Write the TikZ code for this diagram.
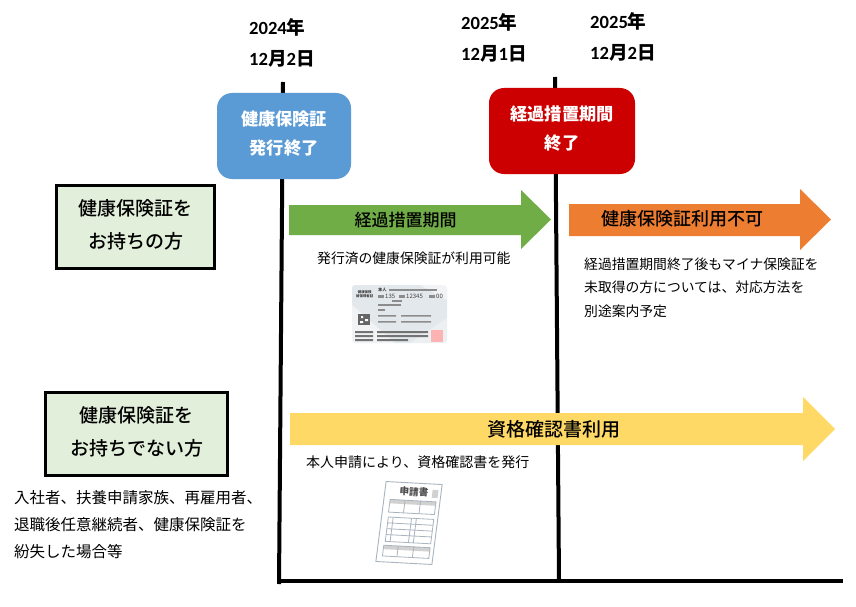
\documentclass[tikz,border=0pt]{standalone}
\usepackage{fontspec}
\setmainfont{Noto Sans CJK JP}
\newfontfamily\med{Noto Sans CJK JP Medium}
\newfontfamily\latinb{Carlito}[BoldFont=Carlito Bold]
\newcommand{\yr}[1]{{\latinb\bfseries #1}}
\newcommand{\frect}[4]{(#1,#2) -- (#3,#2) -- (#3,#4) -- (#1,#4) -- cycle}
\definecolor{gr}{HTML}{70AD47}
\definecolor{og}{HTML}{ED7D31}
\definecolor{yl}{HTML}{FFD966}
\definecolor{bl}{HTML}{5B9BD5}
\definecolor{rd}{HTML}{CC0000}
\definecolor{pale}{HTML}{E2EFDA}
\definecolor{cardc}{HTML}{E3E8EC}
\definecolor{formc}{HTML}{A9B4BE}
\begin{document}
\begin{tikzpicture}[x=1pt,y=-1pt,
  tline/.style={line width=4pt,black},
  milestone/.style={rounded corners=15pt,text=white,font=\fontsize{17.2}{29}\selectfont\bfseries,align=center,inner sep=0pt},
  groupbox/.style={draw=black,line width=3pt,fill=pale,align=center,inner sep=0pt,font=\med\fontsize{19}{33}\selectfont},
  datelabel/.style={align=left,anchor=west,inner sep=0pt,font=\fontsize{18.6}{31}\selectfont\bfseries},
  note/.style={align=left,anchor=west,inner sep=0pt,font=\fontsize{13.8}{23.5}\selectfont},
  cardline/.style={fill=black!45},
  cardtext/.style={inner sep=0pt,anchor=west,text=black!75},
  formline/.style={draw=formc,line width=0.8pt}]
\useasboundingbox (0,0) rectangle (856,607);
\fill[white] (0,0) rectangle (856,607);

% timeline
\coordinate (t1a) at (283,82);
\coordinate (t1b) at (279,584);
\coordinate (t2a) at (555,77);
\coordinate (t2b) at (559,581);
\coordinate (ba) at (279,581);
\coordinate (bb) at (843,581);
\draw[tline] (t1a) -- (t1b);
\draw[tline] (t2a) -- (t2b);
\draw[tline] (ba) -- (bb);

% dates
\node[datelabel] (d1) at (249,42.5) {\yr{2024}年\\\yr{12}月\yr{2}日};
\node[datelabel] (d2) at (461,37.5) {\yr{2025}年\\\yr{12}月\yr{1}日};
\node[datelabel] (d3) at (590,36.5) {\yr{2025}年\\\yr{12}月\yr{2}日};

% milestones
\node[milestone,fill=bl,minimum width=134pt,minimum height=86pt] (m1) at (284,136) {健康保険証\\発行終了\rule[-7pt]{0pt}{1pt}};
\node[milestone,fill=rd,minimum width=146pt,minimum height=86pt] (m2) at (562,131) {経過措置期間\\終了\rule[-7pt]{0pt}{1pt}};

% group boxes
\node[groupbox,minimum width=158pt,minimum height=83pt] (g1) at (135.5,227) {健康保険証を\\お持ちの方\rule[-6pt]{0pt}{1pt}};
\node[groupbox,minimum width=182pt,minimum height=83pt] (g2) at (136.5,434) {健康保険証を\\お持ちでない方\rule[-6pt]{0pt}{1pt}};

% arrows
\fill[gr] (289,205) -- (521,205) -- (521,190) -- (551,219.5) -- (521,249) -- (521,235) -- (289,235) -- cycle;
\node[inner sep=0pt,font=\med\fontsize{17}{20}\selectfont] (a1) at (405.5,220) {経過措置期間};
\fill[og] (569,204) -- (800,204) -- (800,189) -- (831,219.5) -- (800,250) -- (800,236) -- (569,236) -- cycle;
\node[inner sep=0pt,font=\med\fontsize{18}{20}\selectfont] (a2) at (682.5,219) {健康保険証利用不可};
\fill[yl] (290,413) -- (803,413) -- (803,397) -- (835,429) -- (803,461) -- (803,445) -- (290,445) -- cycle;
\node[inner sep=0pt,font=\med\fontsize{19}{20}\selectfont] (a3) at (554,429) {資格確認書利用};

% notes
\node[note] (n1) at (317,258) {発行済の健康保険証が利用可能};
\node[note] (n2) at (584,287.5) {経過措置期間終了後もマイナ保険証を\\未取得の方については、対応方法を\\別途案内予定};
\node[note,font=\fontsize{14}{20}\selectfont] (n3) at (306,462) {本人申請により、資格確認書を発行};
\node[note,font=\fontsize{15.5}{27}\selectfont] (n4) at (14,525) {入社者、扶養申請家族、再雇用者、\\退職後任意継続者、健康保険証を\\紛失した場合等};

% insurance card
\begin{scope}
\fill[cardc,rounded corners=3pt] (352,285) rectangle (447,343);
\fill[white,opacity=.5] (352,343) -- (352,305) -- (395,343) -- cycle;
\fill[white,opacity=.5] (447,300) -- (420,285) -- (447,285) -- cycle;
\fill[white,opacity=.35] (447,343) -- (410,343) -- (447,318) -- cycle;
\node[cardtext,font=\fontsize{3.4}{4.2}\selectfont\bfseries,align=center] (c1) at (356,294.5) {健康保険\\被保険者証};
\node[cardtext,font=\fontsize{4.2}{5}\selectfont\bfseries] (c2) at (378,290) {本人};
\fill[cardline] (389,289) rectangle (437,291);
\node[cardtext,font=\fontsize{6}{7}\selectfont] (c3) at (385,296.5) {135};
\node[cardtext,font=\fontsize{6}{7}\selectfont] (c4) at (406,296.5) {12345};
\node[cardtext,font=\fontsize{6}{7}\selectfont] (c5) at (436,296.5) {00};
\fill[cardline] (378,295) rectangle (384,298);
\fill[cardline] (399,295) rectangle (405,298);
\fill[cardline] (429,295) rectangle (435,298);
\fill[cardline] (392,300) rectangle (402,301.5);
\fill[cardline] (378,303.5) rectangle (401,306);
\fill[cardline] (378,308.5) rectangle (385,311);
\fill[black!60] (358,314) rectangle (370,325);
\fill[white] (361,316) rectangle (363,318) (365,319) rectangle (368,321) (360,321) rectangle (363,323);
\fill[cardline] (378,315) rectangle (396,316.5) (401,315) rectangle (431,316.5);
\fill[cardline] (378,321) rectangle (396,322.5) (401,321) rectangle (431,322.5);
\fill[black!55] (355,331) rectangle (373,333) (377,331) rectangle (428,333);
\fill[black!55] (355,335) rectangle (373,337) (377,335) rectangle (428,337);
\fill[black!55] (355,339) rectangle (373,341) (377,339) rectangle (408,341);
\fill[red!30] (431,330) rectangle (443,342);
\end{scope}

% application form
\begin{scope}[shift={(409,523)},x={(0.966pt,-0.052pt)},y={(-0.125pt,-0.975pt)}]
\draw[formc,line width=.9pt,fill=white] \frect{-29}{-41}{29}{41};
\node[inner sep=0pt,rotate=-4,text=black!70,font=\fontsize{9.6}{12}\selectfont\bfseries] (ft) at (1,-32) {申請書};
\fill[black!18] \frect{20}{-35}{26}{-27};
\fill[black!18] \frect{-22.5}{-23}{25}{-19};
\draw[formline] \frect{-22.5}{-23}{25}{-10};
\draw[formline] (-7,-23) -- (-7,-10) (9,-23) -- (9,-10);
\draw[formline] \frect{-22}{-5}{25}{20};
\draw[formline] (-22,1) -- (25,1) (-22,7) -- (25,7) (-22,13) -- (25,13);
\draw[formline] (-17,-5) -- (-17,20) (2,-5) -- (2,20) (7,-5) -- (7,20);
\fill[black!18] \frect{-23}{24}{25}{28};
\draw[formline] \frect{-23}{24}{25}{35};
\draw[formline] (-8,24) -- (-8,35) (8,24) -- (8,35);
\end{scope}
\end{tikzpicture}
\end{document}
